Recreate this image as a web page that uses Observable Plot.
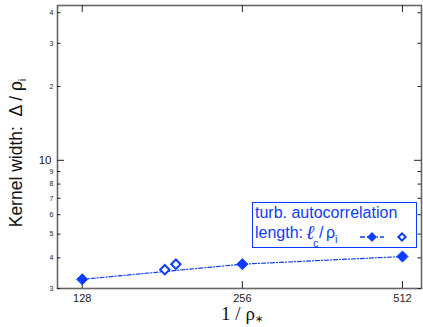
<!DOCTYPE html>
<html><head><meta charset="utf-8">
<script src="https://cdn.jsdelivr.net/npm/d3@7"></script>
<script src="https://cdn.jsdelivr.net/npm/@observablehq/plot@0.6"></script>
<style>
body{margin:0;background:#fff;}
#chart svg{display:block;}
</style>
</head><body><div id="chart"></div>
<script>
// data
const resolution = [128, 256, 512];          // 1 / rho*
const kernelWidth = [3.27, 3.77, 4.05];      // filled diamonds
const openRes = [183, 192];
const openWidth = [3.58, 3.77];              // open diamonds
const xTicks = [128, 256, 512];
const yMajorTicks = [10];
const yMajorLabels = ["10"];
const yMinorTicks = [3, 4, 5, 6, 7, 8, 9, 20, 30, 40];
const yMinorLabels = ["3", "4", "5", "6", "7", "8", "9", "2", "3", "4"];
const blue = "#0a3cff";

const filled = resolution.map((r, i) => ({x: r, y: kernelWidth[i]}));
const open = openRes.map((r, i) => ({x: r, y: openWidth[i]}));

const W = 423, H = 327, mL = 57, mR = 2, mT = 5, mB = 39;
const plotH = H - mT - mB, plotW = W - mL - mR;
const tickC = "#222";

const plot = Plot.plot({
  width: W, height: H,
  marginLeft: mL, marginRight: mR, marginTop: mT, marginBottom: mB,
  x: {type: "log", domain: [115, 556], axis: null},
  y: {type: "log", domain: [3, 42.8], axis: null},
  style: {background: "white", fontFamily: "'Liberation Sans', Arial, sans-serif"},
  marks: [
    Plot.frame({stroke: "#666", strokeWidth: 1.6}),
    // x ticks, inward, bottom and top
    Plot.tickX(xTicks, {x: d => d, insetTop: plotH - 7, stroke: tickC}),
    Plot.tickX(xTicks, {x: d => d, insetBottom: plotH - 7, stroke: tickC}),
    // y ticks, inward, left and right
    Plot.tickY(yMinorTicks, {y: d => d, insetRight: plotW - 3.5, stroke: tickC}),
    Plot.tickY(yMinorTicks, {y: d => d, insetLeft: plotW - 3.5, stroke: tickC}),
    Plot.tickY(yMajorTicks, {y: d => d, insetRight: plotW - 7, stroke: tickC}),
    Plot.tickY(yMajorTicks, {y: d => d, insetLeft: plotW - 7, stroke: tickC}),
    // tick labels
    Plot.text(xTicks, {x: d => d, frameAnchor: "bottom", dy: 13, text: d => String(d), fontSize: 11, fill: tickC}),
    Plot.text(yMinorTicks, {y: d => d, frameAnchor: "left", dx: -4, textAnchor: "end", text: (d, i) => yMinorLabels[i], fontSize: 7, fill: tickC}),
    Plot.text(yMajorTicks, {y: d => d, frameAnchor: "left", dx: -6, textAnchor: "end", text: (d, i) => yMajorLabels[i], fontSize: 11.5, fill: tickC}),
    // data
    Plot.line(filled, {x: "x", y: "y", stroke: blue, strokeWidth: 1.2, strokeDasharray: "4,2,1,2"}),
    Plot.dot(filled, {x: "x", y: "y", symbol: "diamond2", r: 5, fill: blue, stroke: blue, strokeWidth: 1}),
    Plot.dot(open, {x: "x", y: "y", symbol: "diamond2", r: 4.2, fill: "white", stroke: blue, strokeWidth: 2})
  ]
});

document.getElementById("chart").appendChild(plot);
const svg = d3.select(plot);

// y axis label
const yl = svg.append("text")
  .attr("transform", "translate(22,153) rotate(-90)")
  .attr("text-anchor", "middle")
  .attr("font-family", "'Liberation Sans', Arial, sans-serif")
  .attr("font-size", 17.5).attr("fill", "#111");
yl.append("tspan").text("Kernel width:\u00a0 \u0394 / \u03c1");
yl.append("tspan").attr("font-size", 11).attr("dy", 4).text("i");

// x axis label
const xl = svg.append("text")
  .attr("x", 242).attr("y", 320)
  .attr("text-anchor", "middle")
  .attr("font-family", "'Liberation Serif', 'Times New Roman', serif")
  .attr("font-size", 19).attr("fill", "#111");
xl.append("tspan").text("1 / \u03c1");
xl.append("tspan").attr("font-size", 10).attr("dy", 2).text("\u2217");

// legend
const lg = svg.append("g").attr("font-family", "'Liberation Sans', Arial, sans-serif")
  .attr("fill", blue).attr("text-anchor", "start");
lg.append("rect").attr("x", 252.5).attr("y", 202.5).attr("width", 164).attr("height", 45)
  .attr("fill", "white").attr("stroke", blue).attr("stroke-width", 1);
lg.append("text").attr("x", 255).attr("y", 218).attr("font-size", 16).text("turb. autocorrelation");
lg.append("text").attr("x", 255).attr("y", 238).attr("font-size", 16).text("length:");
lg.append("text").attr("x", 306).attr("y", 239).attr("font-size", 20).attr("font-style", "italic")
  .attr("font-family", "'DejaVu Serif', serif").text("\u2113");
lg.append("text").attr("x", 313).attr("y", 247).attr("font-size", 11).text("c");
lg.append("text").attr("x", 319).attr("y", 238).attr("font-size", 16).text("/");
lg.append("text").attr("x", 326).attr("y", 238).attr("font-size", 16).text("\u03c1");
lg.append("text").attr("x", 335).attr("y", 243).attr("font-size", 11).text("i");
lg.append("line").attr("x1", 360).attr("x2", 384).attr("y1", 237).attr("y2", 237)
  .attr("stroke", blue).attr("stroke-width", 1.5).attr("stroke-dasharray", "5,2,1,2");
lg.append("path").attr("d", d3.symbol(d3.symbolDiamond2, 50)()).attr("transform", "translate(372,237)")
  .attr("fill", blue).attr("stroke", blue);
lg.append("path").attr("d", d3.symbol(d3.symbolDiamond2, 34)()).attr("transform", "translate(402,237)")
  .attr("fill", "white").attr("stroke", blue).attr("stroke-width", 2);
</script>
</body></html>
